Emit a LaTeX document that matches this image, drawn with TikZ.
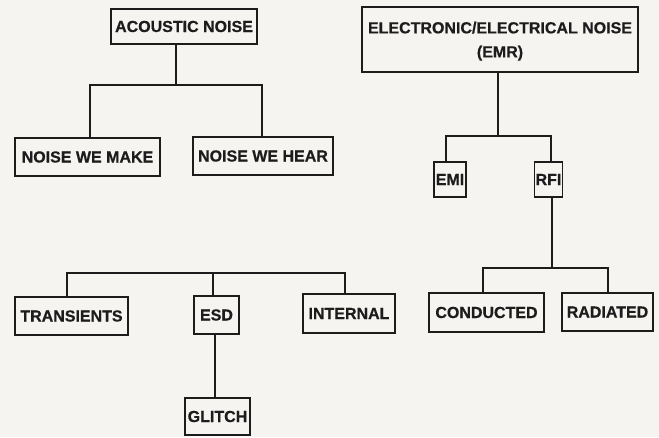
\documentclass[tikz,border=0pt]{standalone}
\usepackage{fontspec}
\setmainfont{Liberation Sans}
\newfontfamily\labelfont[BoldFeatures={FakeBold=0.6}]{Liberation Sans}
\definecolor{paper}{HTML}{F6F4F1}
\definecolor{ink}{HTML}{1C1C1C}
\begin{document}
\begin{tikzpicture}[x=1pt,y=-1pt,
  box/.style={draw=ink,line width=1.3pt,rectangle,inner sep=0pt,
    font=\labelfont\fontsize{16}{24}\selectfont\bfseries,text=ink,align=center},
  link/.style={draw=ink,line width=1.3pt}]
\fill[paper] (0,0) rectangle (659,437);
\useasboundingbox (0,0) rectangle (659,437);
% acoustic tree
\node[box,minimum width=146pt,minimum height=35pt] (acoustic) at (184,26.5) {ACOUSTIC NOISE};
\node[box,minimum width=145pt,minimum height=38pt] (make) at (87.5,157) {NOISE WE MAKE};
\node[box,minimum width=140pt,minimum height=38pt] (hear) at (263,156) {NOISE WE HEAR};
\coordinate (a0) at (176,85);
\coordinate (a1) at (90,85);
\coordinate (a2) at (262,85);
\draw[link] (acoustic.south -| a0) -- (a0);
\draw[link] (make.north -| a1) -- (a1) -- (a2) -- (hear.north -| a2);
% EMR tree
\node[box,minimum width=276pt,minimum height=65pt] (emr) at (500,39.5) {\rule{0pt}{15pt}ELECTRONIC/ELECTRICAL NOISE\\(EMR)};
\node[box,minimum width=32pt,minimum height=35pt] (emi) at (450,179.5) {EMI};
\node[box,minimum width=28pt,minimum height=35pt] (rfi) at (548.5,179.5) {RFI};
\coordinate (e0) at (498,136);
\coordinate (e1) at (446,136);
\coordinate (e2) at (551,136);
\draw[link] (emr.south -| e0) -- (e0);
\draw[link] (emi.north -| e1) -- (e1) -- (e2) -- (rfi.north -| e2);
\node[box,minimum width=115pt,minimum height=39pt] (cond) at (486.5,312.5) {CONDUCTED};
\node[box,minimum width=91pt,minimum height=38pt] (rad) at (607.5,312) {RADIATED};
\coordinate (r0) at (552,268);
\coordinate (r1) at (483,268);
\coordinate (r2) at (608,268);
\draw[link] (rfi.south -| r0) -- (r0);
\draw[link] (cond.north -| r1) -- (r1) -- (r2) -- (rad.north -| r2);
% transients tree
\node[box,minimum width=113pt,minimum height=38pt] (trans) at (71.5,316) {TRANSIENTS};
\node[box,minimum width=45pt,minimum height=38pt] (esd) at (216.5,315) {ESD};
\node[box,minimum width=92pt,minimum height=39pt] (internal) at (349,313.5) {INTERNAL};
\node[box,minimum width=65pt,minimum height=37pt] (glitch) at (217.5,416.5) {GLITCH};
\coordinate (t1) at (67,273);
\coordinate (t0) at (213,273);
\coordinate (t2) at (345,273);
\draw[link] (trans.north -| t1) -- (t1) -- (t2) -- (internal.north -| t2);
\draw[link] (t0) -- (esd.north -| t0);
\coordinate (g0) at (215,334);
\draw[link] (esd.south -| g0) -- (glitch.north -| g0);
\end{tikzpicture}
\end{document}
